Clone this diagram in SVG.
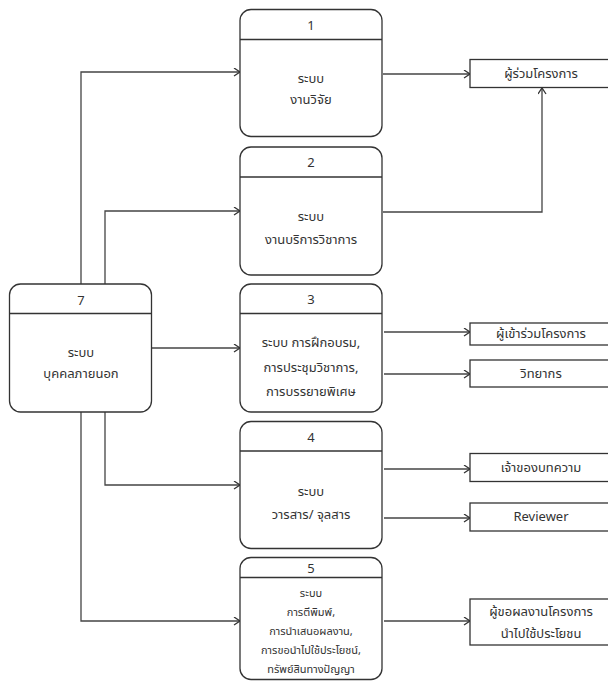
<svg xmlns="http://www.w3.org/2000/svg" width="608" height="684" viewBox="0 0 608 684">
  <style>
    text { font-family: "Noto Sans Thai", "Noto Sans", "DejaVu Sans", sans-serif; font-size: 13px; fill: #333; text-anchor: middle; dominant-baseline: central; }
    .small { font-size: 11px; }
    .proc { fill: #fff; stroke: #333; stroke-width: 1.3; }
    .div { stroke: #333; stroke-width: 1.3; }
    .ext { fill: #fff; stroke: #333; stroke-width: 1.3; }
    .flow { fill: none; stroke: #444; stroke-width: 1.3; marker-end: url(#arr); }
  </style>
  <defs>
    <marker id="arr" markerUnits="userSpaceOnUse" markerWidth="10" markerHeight="10" refX="7" refY="4" orient="auto">
      <path d="M1,0 L7,4 L1,8" fill="none" stroke="#333" stroke-width="1.3"/>
    </marker>
  </defs>

  <!-- data flows -->
  <g id="connectors">
    <path class="flow" d="M81,284 V72 H240"/>
    <path class="flow" d="M105,284 V211 H240"/>
    <path class="flow" d="M152,348 H240"/>
    <path class="flow" d="M105,412 V485 H240"/>
    <path class="flow" d="M81,412 V621 H240"/>
    <path class="flow" d="M383,74 H470"/>
    <path class="flow" d="M383,212 H542 V88"/>
    <path class="flow" d="M384,332 H470"/>
    <path class="flow" d="M384,374 H470"/>
    <path class="flow" d="M384,469 H470"/>
    <path class="flow" d="M384,518 H470"/>
    <path class="flow" d="M384,621 H470"/>
  </g>

  <!-- processes -->
  <g id="p1">
    <rect class="proc" x="240" y="9.5" width="142" height="127" rx="11"/>
    <line class="div" x1="240" y1="39.5" x2="382" y2="39.5"/>
    <text x="311" y="26">1</text>
    <text x="311" y="79">ระบบ</text>
    <text x="311" y="100">งานวิจัย</text>
  </g>
  <g id="p2">
    <rect class="proc" x="240" y="147" width="142" height="128" rx="11"/>
    <line class="div" x1="240" y1="177" x2="382" y2="177"/>
    <text x="311" y="163">2</text>
    <text x="311" y="217">ระบบ</text>
    <text x="311" y="240">งานบริการวิชาการ</text>
  </g>
  <g id="p7">
    <rect class="proc" x="9.5" y="284" width="142" height="128" rx="11"/>
    <line class="div" x1="9.5" y1="313.5" x2="151.5" y2="313.5"/>
    <text x="81" y="301">7</text>
    <text x="81" y="353">ระบบ</text>
    <text x="81" y="374">บุคคลภายนอก</text>
  </g>
  <g id="p3">
    <rect class="proc" x="240" y="284" width="142" height="128" rx="11"/>
    <line class="div" x1="240" y1="313.5" x2="382" y2="313.5"/>
    <text x="311" y="300">3</text>
    <text x="311" y="343">ระบบ การฝึกอบรม,</text>
    <text x="311" y="368">การประชุมวิชาการ,</text>
    <text x="311" y="392">การบรรยายพิเศษ</text>
  </g>
  <g id="p4">
    <rect class="proc" x="240" y="421.5" width="142" height="127" rx="11"/>
    <line class="div" x1="240" y1="451" x2="382" y2="451"/>
    <text x="311" y="438">4</text>
    <text x="311" y="492">ระบบ</text>
    <text x="311" y="515">วารสาร/ จุลสาร</text>
  </g>
  <g id="p5">
    <rect class="proc" x="240" y="557.5" width="142" height="122" rx="11"/>
    <line class="div" x1="240" y1="577.5" x2="382" y2="577.5"/>
    <text x="311" y="569">5</text>
    <text class="small" x="311" y="593">ระบบ</text>
    <text class="small" x="311" y="612">การตีพิมพ์,</text>
    <text class="small" x="311" y="631">การนำเสนอผลงาน,</text>
    <text class="small" x="311" y="650">การขอนำไปใช้ประโยชน์,</text>
    <text class="small" x="311" y="669">ทรัพย์สินทางปัญญา</text>
  </g>

  <!-- external entities -->
  <g id="e-participants">
    <rect class="ext" x="470" y="59.5" width="142" height="28"/>
    <text x="541" y="74">ผู้ร่วมโครงการ</text>
  </g>
  <g id="e-attendees">
    <rect class="ext" x="470" y="323" width="142" height="22"/>
    <text x="541" y="334">ผู้เข้าร่วมโครงการ</text>
  </g>
  <g id="e-speakers">
    <rect class="ext" x="470" y="360" width="142" height="27"/>
    <text x="541" y="373.5">วิทยากร</text>
  </g>
  <g id="e-authors">
    <rect class="ext" x="470" y="453.5" width="142" height="28"/>
    <text x="541" y="467.5">เจ้าของบทความ</text>
  </g>
  <g id="e-reviewer">
    <rect class="ext" x="470" y="503" width="142" height="28"/>
    <text x="541" y="517">Reviewer</text>
  </g>
  <g id="e-requesters">
    <rect class="ext" x="470" y="599" width="142" height="46"/>
    <text x="541" y="612">ผู้ขอผลงานโครงการ</text>
    <text x="541" y="634">นำไปใช้ประโยชน</text>
  </g>
</svg>
